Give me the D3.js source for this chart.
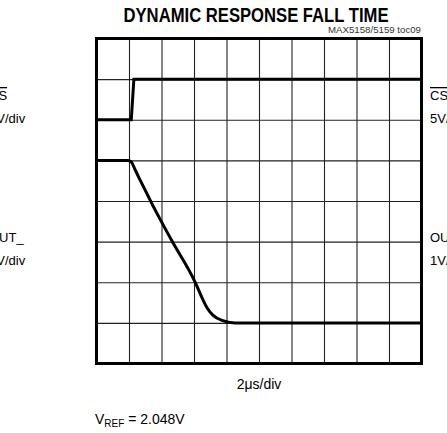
<!DOCTYPE html>
<html>
<head>
<script src="https://d3js.org/d3.v7.min.js"></script>
<style>
  body { margin: 0; background: #fff; }
  text { font-family: "Liberation Sans Narrow", "Arial Narrow", sans-serif; fill: #000; }
</style>
</head>
<body>
<script>
// scope screen: 10 x 8 divisions, trace values given in divisions from the top
var xDivs = d3.range(0, 11);
var yDivs = d3.range(0, 9);
var csTime = [0, 1.07, 1.15, 10];
var csLevel = [2, 2, 1, 1];
var outTime = [0, 0.97, 1.06, 1.2, 1.37, 1.54, 1.65, 2.32, 3.03, 3.28, 3.4, 3.58, 3.86, 4.26, 10];
var outLevel = [3, 3, 3.03, 3.25, 3.53, 3.8, 3.98, 4.98, 5.99, 6.44, 6.63, 6.81, 6.94, 7, 7];

var w = 447, h = 433;
var svg = d3.select("body").append("svg").attr("width", w).attr("height", h);

var x = d3.scaleLinear().domain([0, 10]).range([96.5, 421.5]);
var y = d3.scaleLinear().domain([0, 8]).range([38.5, 363.5]);

// grid
svg.append("g")
    .attr("transform", "translate(0," + y(8) + ")")
    .call(d3.axisBottom(x).tickValues(xDivs.slice(1, -1)).tickSize(-(y(8) - y(0))).tickFormat(""))
    .call(function (g) { g.select(".domain").remove(); g.selectAll("line").attr("stroke", "#222").attr("stroke-width", 1.1); });
svg.append("g")
    .attr("transform", "translate(" + x(0) + ",0)")
    .call(d3.axisLeft(y).tickValues(yDivs.slice(1, -1)).tickSize(-(x(10) - x(0))).tickFormat(""))
    .call(function (g) { g.select(".domain").remove(); g.selectAll("line").attr("stroke", "#222").attr("stroke-width", 1.1); });

// frame
svg.append("rect")
    .attr("x", x(0)).attr("y", y(0))
    .attr("width", x(10) - x(0)).attr("height", y(8) - y(0))
    .attr("fill", "none").attr("stroke", "#000").attr("stroke-width", 3);

var cs = csTime.map(function (t, i) { return [t, csLevel[i]]; });
var out = outTime.map(function (t, i) { return [t, outLevel[i]]; });

svg.append("path")
    .attr("d", d3.line().x(function (d) { return x(d[0]); }).y(function (d) { return y(d[1]); })(cs))
    .attr("fill", "none").attr("stroke", "#000").attr("stroke-width", 3);
svg.append("path")
    .attr("d", d3.line().curve(d3.curveMonotoneX).x(function (d) { return x(d[0]); }).y(function (d) { return y(d[1]); })(out))
    .attr("fill", "none").attr("stroke", "#000").attr("stroke-width", 3);

// titles
svg.append("text").attr("x", 256).attr("y", 22).attr("text-anchor", "middle")
    .attr("font-size", 20).attr("font-weight", "bold")
    .attr("textLength", 265).attr("lengthAdjust", "spacingAndGlyphs")
    .text("DYNAMIC RESPONSE FALL TIME");
svg.append("text").attr("x", 421).attr("y", 33).attr("text-anchor", "end")
    .attr("font-size", 9.5).style("fill", "#333")
    .attr("textLength", 93).attr("lengthAdjust", "spacingAndGlyphs")
    .text("MAX5158/5159 toc09");

// channel labels
function chLabel(lx, ly, name, scale) {
    var t = svg.append("text").attr("x", lx).attr("y", ly).attr("font-size", 13);
    if (name === "CS") t.append("tspan").style("text-decoration", "overline").text("CS");
    else t.append("tspan").text(name);
    svg.append("text").attr("x", lx).attr("y", ly + 23).attr("font-size", 13).text(scale);
}
chLabel(-11, 100, "CS", "5V/div");
chLabel(-11, 242, "OUT_", "1V/div");
chLabel(430, 100, "CS", "5V/div");
chLabel(430, 242, "OUT_", "1V/div");

svg.append("text").attr("x", 259).attr("y", 389).attr("text-anchor", "middle")
    .attr("font-size", 14).text("2\u03bcs/div");

var v = svg.append("text").attr("x", 95).attr("y", 424).attr("font-size", 14);
v.append("tspan").text("V");
v.append("tspan").attr("font-size", 10).attr("dy", 3).text("REF");
v.append("tspan").attr("dy", -3).text(" = 2.048V");
</script>
</body>
</html>
